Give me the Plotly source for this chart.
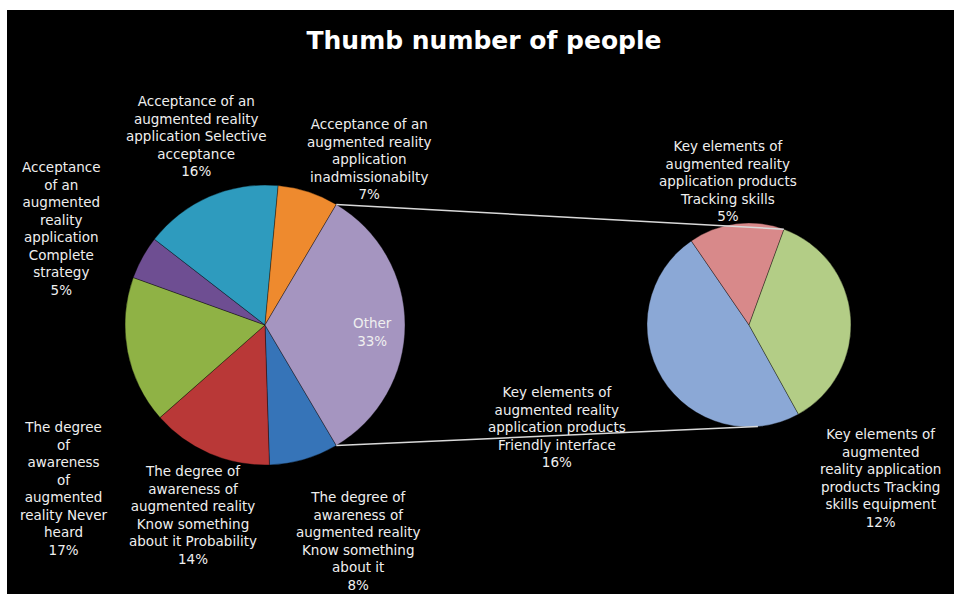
import math
import plotly.graph_objects as go

# ---------------- data ----------------
main_names = [
    "The degree of awareness of augmented reality Know something about it",
    "The degree of awareness of augmented reality Know something about it Probability",
    "The degree of awareness of augmented reality Never heard",
    "Acceptance of an augmented reality application Complete strategy",
    "Acceptance of an augmented reality application Selective acceptance",
    "Acceptance of an augmented reality application inadmissionabilty",
]
main_values = [8, 14, 17, 5, 16, 7]

sec_names = [
    "Key elements of augmented reality application products Friendly interface",
    "Key elements of augmented reality application products Tracking skills",
    "Key elements of augmented reality application products Tracking skills equipment",
]
sec_values = [16, 5, 12]

other_name = "Other"
other_value = sum(sec_values)

# wrapped display text (as in the reference labels)
main_wrapped = [
    "The degree of<br>awareness of<br>augmented reality<br>Know something<br>about it",
    "The degree of<br>awareness of<br>augmented reality<br>Know something<br>about it Probability",
    "The degree<br>of<br>awareness<br>of<br>augmented<br>reality Never<br>heard",
    "Acceptance<br>of an<br>augmented<br>reality<br>application<br>Complete<br>strategy",
    "Acceptance of an<br>augmented reality<br>application Selective<br>acceptance",
    "Acceptance of an<br>augmented reality<br>application<br>inadmissionabilty",
]
sec_wrapped = [
    "Key elements of<br>augmented reality<br>application products<br>Friendly interface",
    "Key elements of<br>augmented reality<br>application products<br>Tracking skills",
    "Key elements of<br>augmented<br>reality application<br>products Tracking<br>skills equipment",
]

# ---------------- styling / layout ----------------
W, H = 954, 594
main_colors = ["#3674B8", "#B93837", "#8FB245", "#6E4E92", "#2E9BBE", "#EE8A2E", "#A595C0"]
sec_colors = ["#8BA8D6", "#D8898A", "#B3CD86"]

MAIN_C, MAIN_R = (265, 325), 140
SEC_C, SEC_R = (749, 325), 102

main_label_pos = [(358, 541), (193, 515), (64, 488), (62, 228), (196, 136), (369, 159)]
sec_label_pos = [(557, 427), (728, 181), (880, 478)]
other_label_pos = (372, 332)

FONT = "DejaVu Sans"
TXT = "#EFEFEF"


def dom(c, r):
    return dict(x=[(c[0] - r) / W, (c[0] + r) / W],
                y=[1 - (c[1] + r) / H, 1 - (c[1] - r) / H])


total = sum(main_values) + other_value
main_rotation = 90 + 360 * other_value / total / 2  # "Other" centred at 3 o'clock
sec_rotation = 151

fig = go.Figure()
fig.add_trace(go.Pie(
    labels=main_names + [other_name],
    values=main_values + [other_value],
    sort=False, direction="clockwise", rotation=main_rotation,
    marker=dict(colors=main_colors, line=dict(color="rgba(0,0,0,0.35)", width=1)),
    textinfo="none", hoverinfo="label+percent", showlegend=False,
    domain=dom(MAIN_C, MAIN_R),
))
fig.add_trace(go.Pie(
    labels=sec_names,
    values=sec_values,
    sort=False, direction="clockwise", rotation=sec_rotation,
    marker=dict(colors=sec_colors, line=dict(color="rgba(0,0,0,0.35)", width=1)),
    textinfo="none", hoverinfo="label", showlegend=False,
    domain=dom(SEC_C, SEC_R),
))

annotations = []


def pct(v):
    return f"{round(100 * v / total)}%"


for txt, v, (px, py) in zip(main_wrapped, main_values, main_label_pos):
    annotations.append(dict(text=f"{txt}<br>{pct(v)}", x=px / W, y=1 - py / H))
for txt, v, (px, py) in zip(sec_wrapped, sec_values, sec_label_pos):
    annotations.append(dict(text=f"{txt}<br>{pct(v)}", x=px / W, y=1 - py / H))
annotations.append(dict(text=f"{other_name}<br>{pct(other_value)}",
                        x=other_label_pos[0] / W, y=1 - other_label_pos[1] / H))
for a in annotations:
    a.update(xref="paper", yref="paper", showarrow=False, xanchor="center",
             yanchor="middle", align="center",
             font=dict(family=FONT, size=13.5, color=TXT))


# connector lines from the "Other" slice edges to the secondary pie
def pt(c, r, deg):
    a = math.radians(deg)
    return c[0] + r * math.sin(a), c[1] - r * math.cos(a)


other_start = main_rotation + 360 * sum(main_values) / total
other_end = other_start + 360 * other_value / total
p1 = pt(MAIN_C, MAIN_R, other_start)
p2 = pt(MAIN_C, MAIN_R, other_end)
q1 = pt(SEC_C, SEC_R, 20)
q2 = pt(SEC_C, SEC_R, 175)

shapes = []
for a, b in [(p1, q1), (p2, q2)]:
    shapes.append(dict(type="line", xref="paper", yref="paper",
                       x0=a[0] / W, y0=1 - a[1] / H, x1=b[0] / W, y1=1 - b[1] / H,
                       line=dict(color="#D9D9D9", width=1.5)))
# white frame strips (top and left) as in the reference image
shapes.append(dict(type="rect", xref="paper", yref="paper", x0=0, x1=1,
                   y0=1 - 10 / H, y1=1.01, fillcolor="white", line=dict(width=0)))
shapes.append(dict(type="rect", xref="paper", yref="paper", x0=-0.01, x1=7 / W,
                   y0=-0.01, y1=1.01, fillcolor="white", line=dict(width=0)))

fig.update_layout(
    width=W, height=H,
    margin=dict(l=0, r=0, t=0, b=0),
    paper_bgcolor="black", plot_bgcolor="black",
    title=dict(text="<b>Thumb number of people</b>", x=484 / W, xanchor="center",
               y=1 - 40 / H, yanchor="middle", yref="container",
               font=dict(family=FONT, size=25, color="white")),
    annotations=annotations,
    shapes=shapes,
)

fig.write_html("out.html", config={"displayModeBar": False},
               post_script="document.body.style.margin='0';document.body.style.padding='0';")
